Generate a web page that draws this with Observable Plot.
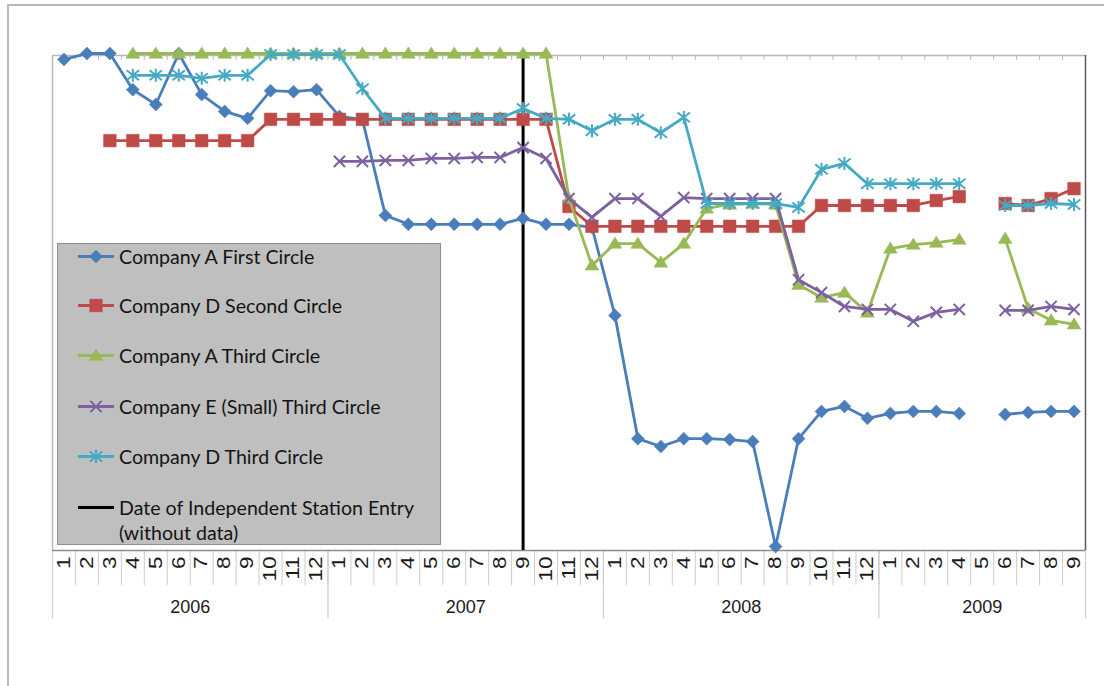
<!DOCTYPE html>
<html>
<head>
<meta charset="utf-8">
<script src="https://cdn.jsdelivr.net/npm/d3@7"></script>
<script src="https://cdn.jsdelivr.net/npm/@observablehq/plot@0.6"></script>
<style>
  html, body { margin: 0; padding: 0; background: #ffffff; }
  body { width: 1104px; height: 686px; overflow: hidden; position: relative; font-family: "Liberation Sans", Arial, sans-serif; }
  #outer { position: absolute; left: 7px; top: 4px; width: 1200px; height: 800px; border-left: 2px solid #b9b9b9; border-top: 2px solid #b9b9b9; }
  #chart { position: absolute; left: 0; top: 0; }
  #legend { position: absolute; left: 57px; top: 243px; width: 384px; height: 302px; background: #bfbfbf; border: 1px solid #8e8e8e; box-sizing: border-box; font-family: Lato, "Noto Sans", sans-serif; font-size: 19.6px; color: #141414; }
  .item { position: absolute; left: 18px; display: flex; align-items: flex-start; }
  .item svg { flex: none; }
  .item span { line-height: 25px; margin-left: 3px; white-space: nowrap; }
</style>
</head>
<body>
<div id="outer"></div>
<div id="chart"></div>
<div id="legend"></div>
<script>
// ---------- data ----------
const years = ["2006", "2007", "2008", "2009"];
const monthLabels = [
  "1","2","3","4","5","6","7","8","9","10","11","12",
  "1","2","3","4","5","6","7","8","9","10","11","12",
  "1","2","3","4","5","6","7","8","9","10","11","12",
  "1","2","3","4","5","6","7","8","9"
];
const monthYear = [
  ...Array(12).fill("2006"), ...Array(12).fill("2007"), ...Array(12).fill("2008"), ...Array(9).fill("2009")
];
const seriesNames = [
  "Company A First Circle",
  "Company D Second Circle",
  "Company A Third Circle",
  "Company E (Small) Third Circle",
  "Company D Third Circle"
];
const entryLabel = ["Date of Independent Station Entry", "(without data)"];
const entryYear = "2007";
const entryMonth = "9";

const companyAFirst = [
  99.2, 100.4, 100.4, 93.1, 90.1, 100.4, 92.1, 88.7, 87.3, 92.9, 92.7, 93.1,
  87.7, 87.1, 67.7, 65.9, 65.9, 65.9, 65.9, 65.9, 67.1, 65.9, 65.9, 65.3,
  47.5, 22.6, 21.0, 22.6, 22.6, 22.4, 22.0, 0.8, 22.6, 28.1, 29.1, 26.7,
  27.7, 28.1, 28.1, 27.7, null, 27.5, 27.9, 28.1, 28.1
];
const companyDSecond = [
  null, null, 82.8, 82.8, 82.8, 82.8, 82.8, 82.8, 82.8, 87.1, 87.1, 87.1,
  87.1, 87.1, 87.1, 87.1, 87.1, 87.1, 87.1, 87.1, 87.1, 87.1, 69.5, 65.5,
  65.5, 65.5, 65.5, 65.5, 65.5, 65.5, 65.5, 65.5, 65.5, 69.7, 69.7, 69.7,
  69.7, 69.7, 70.7, 71.5, null, 70.1, 69.7, 71.1, 73.1
];
const companyAThird = [
  null, null, null, 100.4, 100.4, 100.4, 100.4, 100.4, 100.4, 100.4, 100.4, 100.4,
  100.4, 100.4, 100.4, 100.4, 100.4, 100.4, 100.4, 100.4, 100.4, 100.4, 71.1, 57.6,
  62.0, 62.0, 58.2, 62.0, 69.1, 69.9, 70.1, 69.9, 53.7, 51.1, 52.1, 48.1,
  61.0, 61.8, 62.2, 62.8, null, 63.0, 48.9, 46.5, 45.7
];
const companyESmallThird = [
  null, null, null, null, null, null, null, null, null, null, null, null,
  78.6, 78.6, 78.8, 78.8, 79.2, 79.2, 79.4, 79.4, 81.4, 79.2, 71.1, 67.3,
  71.1, 71.1, 67.5, 71.3, 71.1, 71.1, 71.1, 71.1, 54.7, 52.1, 49.3, 48.7,
  48.7, 46.3, 48.1, 48.7, null, 48.5, 48.5, 49.3, 48.7
];
const companyDThird = [
  null, null, null, 96.0, 96.0, 96.0, 95.4, 96.0, 96.0, 100.2, 100.2, 100.2,
  100.2, 93.3, 87.3, 87.3, 87.3, 87.3, 87.3, 87.3, 89.3, 87.3, 87.1, 84.8,
  87.1, 87.1, 84.4, 87.5, 70.1, 70.1, 70.1, 70.1, 69.3, 77.0, 78.2, 74.1,
  74.1, 74.1, 74.1, 74.1, null, 69.7, 69.7, 70.1, 69.9
];

// ---------- styling ----------
const colors = ["#4a7ebb", "#be4b48", "#98b954", "#7d60a0", "#46aac5"];
const sym = (fn) => ({ draw(ctx, size) { fn(ctx, Math.sqrt(size / Math.PI)); } });
const diamondSym = sym((c, r) => { c.moveTo(0, -r); c.lineTo(r, 0); c.lineTo(0, r); c.lineTo(-r, 0); c.closePath(); });
const squareSym = sym((c, r) => { c.rect(-r, -r, 2 * r, 2 * r); });
const triangleSym = sym((c, r) => { c.moveTo(0, -r * 1.05); c.lineTo(r * 1.1, r * 0.75); c.lineTo(-r * 1.1, r * 0.75); c.closePath(); });
const timesSym = sym((c, r) => { c.moveTo(-r, -r); c.lineTo(r, r); c.moveTo(r, -r); c.lineTo(-r, r); });
const starSym = sym((c, r) => { c.moveTo(-r, -r * 0.8); c.lineTo(r, r * 0.8); c.moveTo(r, -r * 0.8); c.lineTo(-r, r * 0.8); c.moveTo(0, -r * 1.05); c.lineTo(0, r * 1.05); });
const symbols = [diamondSym, squareSym, triangleSym, timesSym, starSym];
const radii = [6.5, 6.3, 6.3, 5.6, 6.2];
const filled = [true, true, true, false, false];
const seriesData = [companyAFirst, companyDSecond, companyAThird, companyESmallThird, companyDThird];

// ---------- table ----------
const n = monthLabels.length;
const rows = monthLabels.map((m, i) => ({
  x: i + 0.5, month: m, year: monthYear[i],
  s0: companyAFirst[i], s1: companyDSecond[i], s2: companyAThird[i], s3: companyESmallThird[i], s4: companyDThird[i]
}));
const boundaries = d3.range(0, n + 1);
const yearRows = years.map(y => {
  const idx = monthYear.map((v, i) => v === y ? i : -1).filter(i => i >= 0);
  return { year: y, start: idx[0], end: idx[idx.length - 1] + 1, mid: (idx[0] + idx[idx.length - 1] + 1) / 2 };
});
const yearBoundaries = [...yearRows.map(d => d.start), n];
const entryX = rows.findIndex(r => r.year === entryYear && r.month === entryMonth) + 0.5;

const seriesMarks = seriesData.flatMap((arr, k) => [
  Plot.line(rows, { x: "x", y: "s" + k, stroke: colors[k], strokeWidth: 2.8, curve: "linear" }),
  Plot.dot(rows, {
    x: "x", y: "s" + k, symbol: symbols[k], r: radii[k],
    fill: filled[k] ? colors[k] : "none",
    stroke: colors[k], strokeWidth: filled[k] ? 0.5 : 2
  })
]);

const chart = Plot.plot({
  width: 1104,
  height: 686,
  marginLeft: 52,
  marginRight: 19,
  marginTop: 55,
  marginBottom: 136,
  x: { domain: [0, n], axis: null },
  y: { domain: [0, 100], axis: null },
  style: { background: "transparent", overflow: "visible", fontFamily: "'Liberation Sans', Arial, sans-serif" },
  marks: [
    Plot.ruleX(boundaries, { x: d => d, y1: 0, y2: -7.1, stroke: "#cccccc", strokeWidth: 1 }),
    Plot.ruleX(yearBoundaries, { x: d => d, y1: 0, y2: -13.8, stroke: "#cccccc", strokeWidth: 1.2 }),
    Plot.ruleX(boundaries, { x: d => d, y1: 100, y2: 99, stroke: "#b8b8b8" }),
    Plot.ruleY([100], { stroke: "#b8b8b8", strokeWidth: 1.5 }),
    Plot.ruleX([0], { stroke: "#b8b8b8", strokeWidth: 1.5 }),
    Plot.ruleY([0], { stroke: "#8c8c8c", strokeWidth: 1.5 }),
    Plot.ruleX([n], { stroke: "#5a5a5a", strokeWidth: 1.5 }),
    Plot.text(rows, { x: "x", text: "month", frameAnchor: "bottom", dy: 6, rotate: -90, textAnchor: "end", lineAnchor: "middle", fontSize: 18, fill: "#1a1a1a", ariaDescription: "month labels" }),
    Plot.text(yearRows, { x: "mid", text: "year", frameAnchor: "bottom", dy: 57, lineAnchor: "middle", fontSize: 18, fill: "#1a1a1a" }),
    Plot.ruleX([entryX], { x: d => d, y1: 0, y2: 100, stroke: "#000", strokeWidth: 3 }),
    ...seriesMarks
  ]
});
document.getElementById("chart").appendChild(chart);
// month labels in the original are drawn stretched along their reading direction
d3.select(chart).selectAll('g[aria-description="month labels"] text').each(function () {
  const t = this.getAttribute("transform") || "";
  this.setAttribute("transform", t + " scale(1.25,1)");
});

// ---------- legend ----------
const legend = document.getElementById("legend");
const itemTops = [0, 49, 99, 150, 200, 251];
function sampleSvg(k) {
  const s = d3.create("svg").attr("width", 40).attr("height", 25);
  s.append("line").attr("x1", 2).attr("x2", 38).attr("y1", 12.5).attr("y2", 12.5)
    .attr("stroke", k < 0 ? "#000" : colors[k]).attr("stroke-width", k < 0 ? 3 : 2.8);
  if (k >= 0) {
    const p = d3.path();
    symbols[k].draw(p, Math.PI * radii[k] * radii[k]);
    s.append("path").attr("d", p.toString()).attr("transform", "translate(20,12.5)")
      .attr("fill", filled[k] ? colors[k] : "none").attr("stroke", colors[k]).attr("stroke-width", filled[k] ? 0.5 : 2);
  }
  return s.node();
}
seriesNames.forEach((name, k) => {
  const div = document.createElement("div");
  div.className = "item";
  div.style.top = itemTops[k] + "px";
  div.appendChild(sampleSvg(k));
  const span = document.createElement("span");
  span.textContent = name;
  div.appendChild(span);
  legend.appendChild(div);
});
{
  const div = document.createElement("div");
  div.className = "item";
  div.style.top = itemTops[5] + "px";
  div.appendChild(sampleSvg(-1));
  const span = document.createElement("span");
  span.appendChild(document.createTextNode(entryLabel[0]));
  span.appendChild(document.createElement("br"));
  span.appendChild(document.createTextNode(entryLabel[1]));
  div.appendChild(span);
  legend.appendChild(div);
}
</script>
</body>
</html>
